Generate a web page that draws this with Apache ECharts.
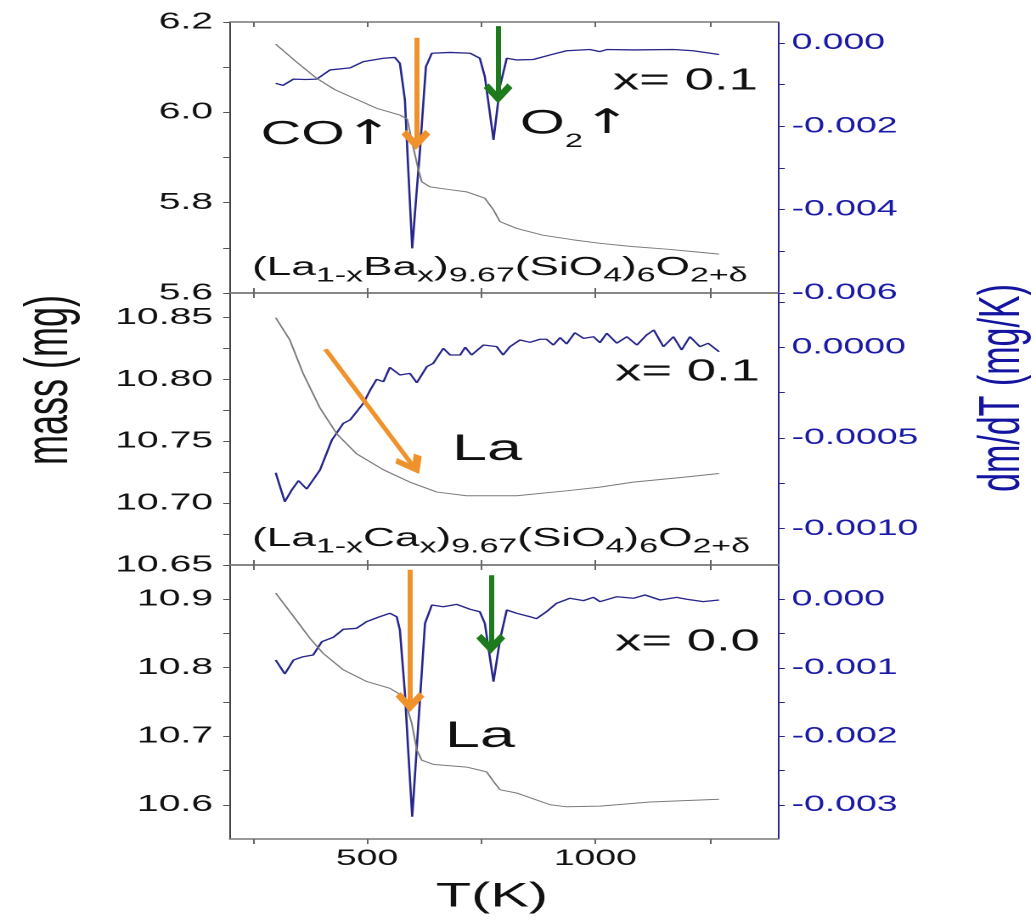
<!DOCTYPE html>
<html><head><meta charset="utf-8">
<script src="https://cdn.jsdelivr.net/npm/echarts@6/dist/echarts.min.js"></script>
<style>
html,body{margin:0;padding:0;background:#fff;overflow:hidden;}
#chart{width:610px;height:921px;transform:scaleX(1.698361);transform-origin:0 0;}
</style></head>
<body><div id="chart"></div>
<script>
// ---------- data ----------
const topMassT = [300,345,390,430,463,521,572,588,601,612,620,638,680,718,758,777,791,828,885,950,1010,1080,1157,1220,1271];
const topMass  = [6.151,6.112,6.075,6.050,6.035,6.009,5.994,5.985,5.924,5.875,5.846,5.835,5.829,5.824,5.810,5.784,5.758,5.743,5.728,5.718,5.710,5.703,5.697,5.691,5.686];
const topRateT = [300,316,339,365,390,419,463,492,536,561,572,583,591,599,607,616,629,642,682,726,747,758,768,777,784,791,806,828,864,901,937,988,1010,1025,1083,1171,1214,1271];
const topRate  = [-0.00097,-0.00102,-0.00087,-0.00088,-0.00087,-0.00065,-0.00060,-0.00045,-0.00037,-0.00035,-0.00049,-0.00137,-0.00320,-0.00493,-0.00380,-0.00257,-0.00057,-0.00025,-0.00023,-0.00025,-0.00037,-0.00081,-0.00160,-0.00233,-0.00170,-0.00105,-0.00037,-0.00041,-0.00040,-0.00029,-0.00019,-0.00016,-0.00021,-0.00016,-0.00017,-0.00016,-0.00019,-0.00028];

const midMassT = [300,331,360,397,434,477,536,594,653,718,828,937,1010,1083,1193,1271];
const midMass  = [10.850,10.832,10.805,10.777,10.756,10.740,10.727,10.717,10.709,10.706,10.706,10.710,10.713,10.717,10.721,10.724];
const midRateT = [300,320,335,350,368,397,423,448,463,492,507,521,536,550,572,594,609,631,645,667,682,704,715,729,755,784,798,813,835,857,879,893,908,923,937,955,974,996,1010,1025,1047,1069,1091,1112,1128,1149,1171,1189,1207,1229,1247,1271];
const midRate  = [-0.000691,-0.000851,-0.000787,-0.000735,-0.000781,-0.000676,-0.000511,-0.000419,-0.000400,-0.000308,-0.000235,-0.000176,-0.000189,-0.000110,-0.000152,-0.000143,-0.000195,-0.000106,-0.000088,-0.000005,-0.000042,-0.000042,0.000001,-0.000042,0.000013,0.000004,-0.000042,0.000004,0.000041,0.000028,0.000045,0.000045,0.000013,0.000054,0.000019,0.000081,0.000050,0.000059,0.000026,0.000078,0.000023,0.000059,0.000013,0.000068,0.000096,0.000004,0.000059,-0.000014,0.000059,0.000004,0.000023,-0.000024];

const botMassT = [300,339,375,404,448,499,550,580,598,609,620,645,718,762,777,791,828,901,937,1010,1120,1271];
const botMass  = [10.909,10.875,10.843,10.821,10.797,10.780,10.770,10.758,10.719,10.680,10.665,10.659,10.655,10.648,10.634,10.622,10.617,10.600,10.597,10.598,10.604,10.608];
const botRateT = [300,320,339,360,382,401,426,448,477,499,528,550,565,572,583,591,599,612,627,642,667,696,726,747,758,768,777,784,791,806,828,857,871,893,915,944,974,996,1010,1047,1083,1109,1142,1178,1200,1236,1271];
const botRate  = [-0.000887,-0.00109,-0.000887,-0.000839,-0.000814,-0.00062,-0.000556,-0.000439,-0.000424,-0.000327,-0.000255,-0.000205,-0.000255,-0.000449,-0.00137,-0.0023,-0.003175,-0.00186,-0.000352,-0.000084,-0.000109,-0.000074,-0.000147,-0.000182,-0.000352,-0.0008,-0.001204,-0.0009,-0.000595,-0.000157,-0.000205,-0.000255,-0.000284,-0.000182,-0.000059,0.000014,-0.00002,0.000028,-0.000035,0.000037,0.000014,0.000062,-0.000011,0.000028,0,-0.000035,-0.000011];

// ---------- ticks and tick labels ----------
const xTicks = [250,500,750,1000,1250];
const xLabels = [500,1000];
const topMassTicks = [5.6,5.7,5.8,5.9,6.0,6.1,6.2];
const topMassLabels = [5.6,5.8,6.0,6.2];
const topRateTicks = [-0.006,-0.005,-0.004,-0.003,-0.002,-0.001,0];
const topRateLabels = [-0.006,-0.004,-0.002,0];
const midMassTicks = [10.65,10.675,10.7,10.725,10.75,10.775,10.8,10.825,10.85];
const midMassLabels = [10.65,10.7,10.75,10.8,10.85];
const midRateTicks = [-0.001,-0.00075,-0.0005,-0.00025,0,0.00025];
const midRateLabels = [-0.001,-0.0005,0];
const botMassTicks = [10.6,10.65,10.7,10.75,10.8,10.85,10.9];
const botMassLabels = [10.6,10.7,10.8,10.9];
const botRateTicks = [-0.003,-0.0025,-0.002,-0.0015,-0.001,-0.0005,0];
const botRateLabels = [-0.003,-0.002,-0.001,0];

// arrows (data units of the left axis of each panel)
const arrows = [
  {panel:0, color:'#f0922c', from:[607,6.165], to:[607,5.939]},
  {panel:0, color:'#1d7a1d', from:[787,6.191], to:[787,6.042]},
  {panel:1, color:'#f0922c', from:[409,10.8245], to:[599,10.731]},
  {panel:2, color:'#f0922c', from:[594,10.943], to:[594,10.75]},
  {panel:2, color:'#1d7a1d', from:[771,10.935], to:[771,10.835]}
];

// ---------- layout ----------
const S = 1036/610;
const px = v => v / S;
const F = '"Liberation Sans", Arial, sans-serif';
const NAVY = '#26268c';
const BLUE = '#1a1aa6';

const panels = [
  {top:22, height:271, massMin:5.6, massMax:6.2, rateMin:-0.006, rateMax:0.0005,
   mT:topMassT, m:topMass, rT:topRateT, r:topRate,
   mTicks:topMassTicks, mLabels:topMassLabels, mDec:1,
   rTicks:topRateTicks, rLabels:topRateLabels, rDec:3},
  {top:293, height:272, massMin:10.65, massMax:10.87, rateMin:-0.0012, rateMax:0.0003,
   mT:midMassT, m:midMass, rT:midRateT, r:midRate,
   mTicks:midMassTicks, mLabels:midMassLabels, mDec:2,
   rTicks:midRateTicks, rLabels:midRateLabels, rDec:4},
  {top:565, height:274, massMin:10.55, massMax:10.95, rateMin:-0.0035, rateMax:0.0005,
   mT:botMassT, m:botMass, rT:botRateT, r:botRate,
   mTicks:botMassTicks, mLabels:botMassLabels, mDec:1,
   rTicks:botRateTicks, rLabels:botRateLabels, rDec:3}
];

const zip = (a,b) => a.map((v,i)=>[v,b[i]]);
const chevron = 'path://M10,0 L20,10 L16.5,13 L10,6.5 L3.5,13 L0,10 Z';

const grid = [], xAxis = [], yAxis = [], series = [];
panels.forEach((p,i)=>{
  grid.push({left:px(230), width:px(778)-px(230), top:p.top, height:p.height});
  const last = i === panels.length-1;
  xAxis.push({type:'value', gridIndex:i, position:'bottom', min:200, max:1400,
    axisLine:{show:true, onZero:false, lineStyle:{color:'#777', width:1.5}},
    axisTick:{show:true, inside:!last, length:5, customValues:xTicks, lineStyle:{color:'#666', width:1}},
    axisLabel:{show:last, customValues:xLabels, formatter:v=>String(v), fontSize:22, color:'#111', fontFamily:F, margin:9},
    splitLine:{show:false}});
  xAxis.push({type:'value', gridIndex:i, position:'top', min:200, max:1400,
    axisLine:{show:true, onZero:false, lineStyle:{color:'#777', width:1.5}},
    axisTick:{show:true, inside:true, length:5, customValues:xTicks, lineStyle:{color:'#666', width:1}},
    axisLabel:{show:false}, splitLine:{show:false}});
  yAxis.push({type:'value', gridIndex:i, position:'left', min:p.massMin, max:p.massMax,
    axisLine:{show:true, onZero:false, lineStyle:{color:'#444', width:1}},
    axisTick:{show:true, inside:false, length:4, customValues:p.mTicks, lineStyle:{color:'#555'}},
    axisLabel:{customValues:p.mLabels, formatter:v=>v.toFixed(p.mDec), fontSize:23, color:'#111', fontFamily:F, margin:10},
    splitLine:{show:false}});
  yAxis.push({type:'value', gridIndex:i, position:'right', min:p.rateMin, max:p.rateMax,
    axisLine:{show:true, onZero:false, lineStyle:{color:NAVY, width:1}},
    axisTick:{show:true, inside:false, length:4, customValues:p.rTicks, lineStyle:{color:NAVY}},
    axisLabel:{customValues:p.rLabels, formatter:v=>v.toFixed(p.rDec), fontSize:22, color:BLUE, fontFamily:F, margin:8},
    splitLine:{show:false}});
  const arrs = arrows.filter(a=>a.panel===i);
  series.push({type:'line', name:'mass', xAxisIndex:2*i, yAxisIndex:2*i, data:zip(p.mT,p.m),
    showSymbol:false, lineStyle:{color:'#7a7a7a', width:1}, z:3,
    markLine:{silent:true, animation:false, symbol:['none', chevron], symbolSize:[17,20],
      label:{show:false}, emphasis:{disabled:true},
      data: arrs.map(a=>[{coord:a.from, lineStyle:{color:a.color, width:3, type:'solid'}, itemStyle:{color:a.color}},
                         {coord:a.to, itemStyle:{color:a.color}}])}});
  series.push({type:'line', name:'dm/dT', xAxisIndex:2*i, yAxisIndex:2*i+1, data:zip(p.rT,p.r),
    showSymbol:false, lineStyle:{color:NAVY, width:1.3}, z:2});
});

const rich = (subFs, arrowFs) => ({
  s:{fontSize:subFs, verticalAlign:'bottom', fontFamily:F, fill:'#111'},
  a:{fontSize:arrowFs, fontFamily:'"DejaVu Sans", sans-serif', fill:'#111', verticalAlign:'middle'}
});
const formulaBa = '(La{s|1-x}Ba{s|x}){s|9.67}(SiO{s|4}){s|6}O{s|2+δ}';
const formulaCa = '(La{s|1-x}Ca{s|x}){s|9.67}(SiO{s|4}){s|6}O{s|2+δ}';
const txt = (x,y,text,fs,extra) => Object.assign({type:'text', x:px(x), y:y, silent:true,
  style:Object.assign({text:text, fontSize:fs, fontFamily:F, fill:'#111', align:'left', verticalAlign:'middle'}, extra||{})});

const graphic = [
  txt(327,135,'CO{a|↑}',33,{align:'center', lineHeight:38, rich:rich(19,34)}),
  txt(520,124,'O{s|2}{a|↑}',34,{lineHeight:55, rich:rich(19,34)}),
  txt(613,81,'x= 0.1',31),
  txt(252,268,formulaBa,26,{lineHeight:36, rich:rich(20,26)}),
  txt(615,372,'x= 0.1',31),
  txt(452,450,'La',37),
  txt(252,539,formulaCa,26,{lineHeight:36, rich:rich(20,26)}),
  txt(615,642,'x= 0.0',31),
  txt(445,737,'La',37),
  Object.assign(txt(50,380,'mass (mg)',36,{align:'center'}), {rotation:Math.PI/2}),
  Object.assign(txt(1003,388,'dm/dT (mg/K)',34,{align:'center', fill:'#1414a0'}), {rotation:Math.PI/2}),
  txt(492,897,'T(K)',34,{align:'center'})
];

const chart = echarts.init(document.getElementById('chart'), null, {renderer:'canvas', devicePixelRatio:2});
chart.setOption({animation:false, backgroundColor:'#fff', grid, xAxis, yAxis, series, graphic});
</script>
</body></html>
